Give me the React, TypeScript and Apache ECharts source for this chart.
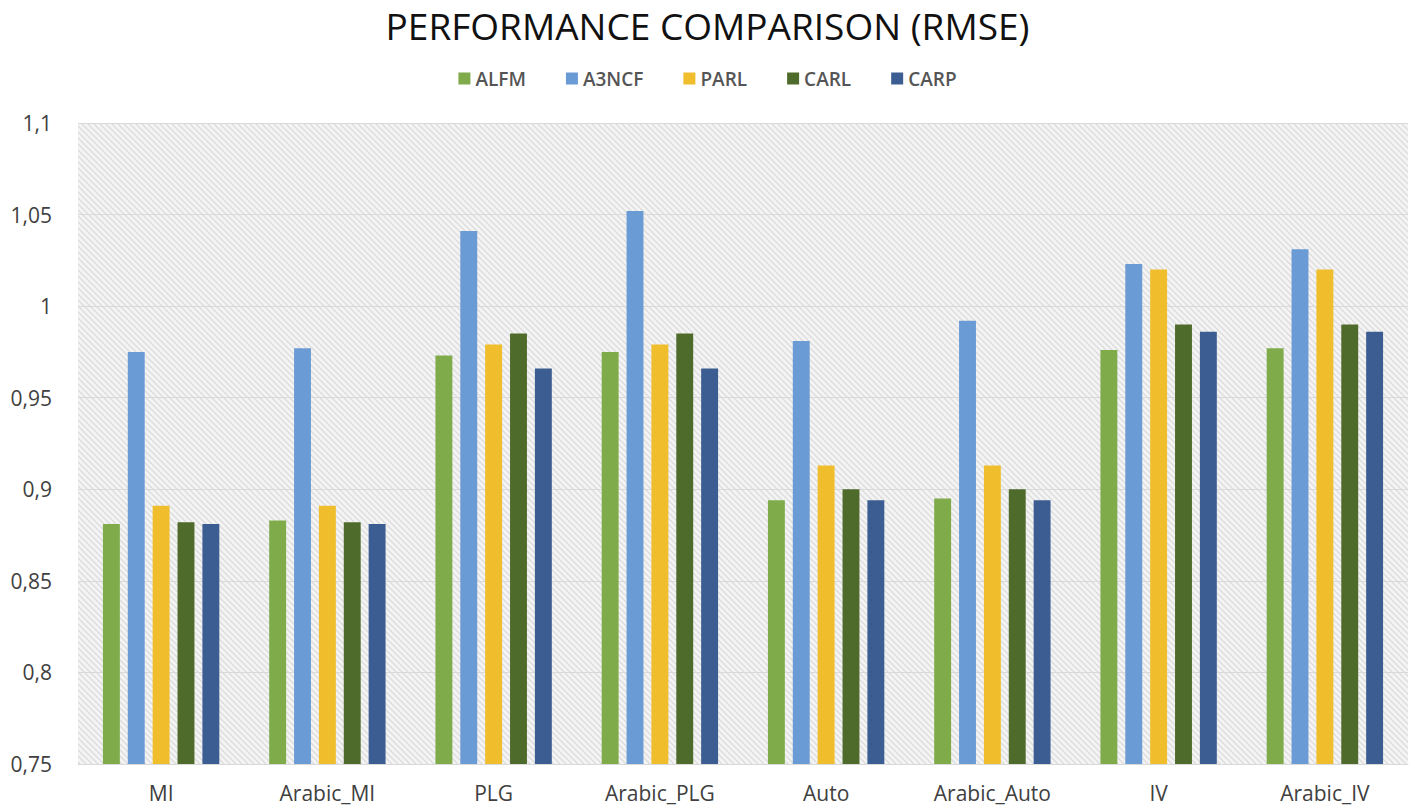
import React, { useEffect, useRef } from "react";
import * as echarts from "echarts";

const categories = ["MI", "Arabic_MI", "PLG", "Arabic_PLG", "Auto", "Arabic_Auto", "IV", "Arabic_IV"];
const seriesNames = ["ALFM", "A3NCF", "PARL", "CARL", "CARP"];
const alfm = [0.881, 0.883, 0.973, 0.975, 0.894, 0.895, 0.976, 0.977];
const a3ncf = [0.975, 0.977, 1.041, 1.052, 0.981, 0.992, 1.023, 1.031];
const parl = [0.891, 0.891, 0.979, 0.979, 0.913, 0.913, 1.02, 1.02];
const carl = [0.882, 0.882, 0.985, 0.985, 0.9, 0.9, 0.99, 0.99];
const carp = [0.881, 0.881, 0.966, 0.966, 0.894, 0.894, 0.986, 0.986];
const seriesData = [alfm, a3ncf, parl, carl, carp];
const colors = ["#7fab4a", "#6b9bd5", "#f0bd2c", "#4f6b2b", "#3b5d92"];

const hatchSvg =
  "<svg xmlns='http://www.w3.org/2000/svg' width='6' height='6'>" +
  "<rect width='6' height='6' fill='#f4f4f4'/>" +
  "<path d='M-1,-1 L7,7 M-1,5 L1,7 M5,-1 L7,1' stroke='#dcdcdc' stroke-width='1.3'/>" +
  "</svg>";
const hatchUrl = "data:image/svg+xml;charset=utf-8," + encodeURIComponent(hatchSvg);

export default function App() {
  const ref = useRef<HTMLDivElement>(null);
  useEffect(() => {
    document.body.style.margin = "0";
    if (!ref.current) return;
    const chart = echarts.init(ref.current, null, { renderer: "svg" });
    const img = new Image();
    img.src = hatchUrl;
    const build = (pattern: any) => ({
      animation: false,
      backgroundColor: "#ffffff",
      title: {
        text: "PERFORMANCE COMPARISON (RMSE)",
        left: "center",
        top: 6,
        padding: 0,
        textStyle: {
          fontFamily: "Open Sans",
          fontSize: 37,
          lineHeight: 38,
          fontWeight: "normal",
          color: "#111111",
        },
      },
      legend: {
        data: seriesNames,
        top: 64,
        left: "center",
        itemWidth: 12,
        itemHeight: 12,
        itemGap: 40,
        icon: "rect",
        textStyle: { fontFamily: "Open Sans", fontSize: 19, fontWeight: 600, color: "#555555" },
      },
      grid: {
        left: 78,
        right: 7,
        top: 123,
        bottom: 46,
        show: true,
        borderWidth: 0,
        backgroundColor: pattern,
      },
      xAxis: {
        type: "category",
        data: categories,
        axisLine: { show: true, lineStyle: { color: "#d9d9d9" } },
        axisTick: { show: false },
        axisLabel: { fontFamily: "Open Sans", fontSize: 21, color: "#404040", margin: 18 },
      },
      yAxis: {
        type: "value",
        min: 0.75,
        max: 1.1,
        interval: 0.05,
        axisLine: { show: false },
        axisTick: { show: false },
        splitLine: { lineStyle: { color: "#d9d9d9", width: 1 } },
        axisLabel: {
          fontFamily: "Open Sans",
          fontSize: 21,
          color: "#404040",
          margin: 26,
          formatter: (v: number) => {
            const r = Math.round(v * 100) / 100;
            return String(r).replace(".", ",");
          },
        },
      },
      series: seriesNames.map((name, i) => ({
        name,
        type: "bar",
        data: seriesData[i],
        barGap: "47%",
        barCategoryGap: "30%",
        itemStyle: { color: colors[i] },
      })),
    });
    const draw = () => chart.setOption(build({ image: img, repeat: "repeat" }), true);
    chart.setOption(build("#f0f0f0"));
    if (img.complete) draw();
    else img.onload = draw;
    return () => chart.dispose();
  }, []);
  return <div ref={ref} style={{ width: 1415, height: 810 }} />;
}
